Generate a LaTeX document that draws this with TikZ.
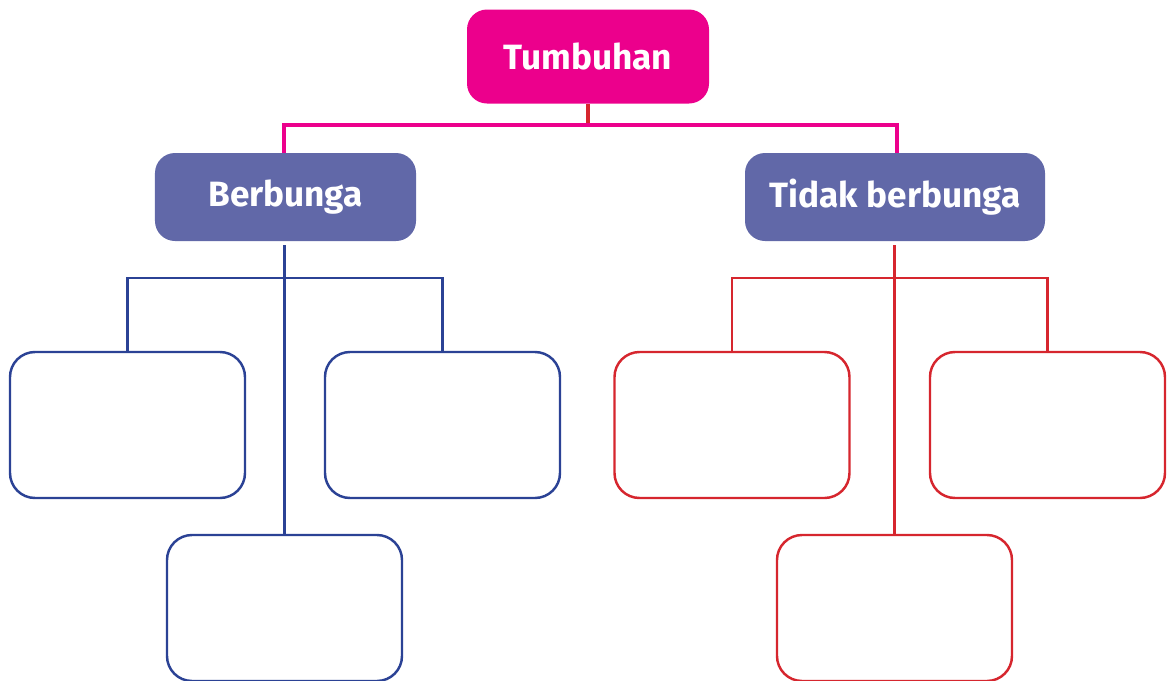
\documentclass[tikz,border=0pt]{standalone}
\usepackage{fontspec}
\setmainfont{Fira Sans}
\usepackage{tikz}
\usetikzlibrary{calc}
\usetikzlibrary{positioning}
\definecolor{magenta}{HTML}{EC008C}
\definecolor{ungu}{HTML}{6168A8}
\definecolor{biru}{HTML}{2B4295}
\definecolor{merah}{HTML}{D6262E}
\tikzset{headbox/.style = {rectangle, rounded corners=4mm, draw=none, text=white, font=\fontsize{20}{24}\selectfont\bfseries, inner sep=0}}
\tikzset{emptybox/.style = {rectangle, rounded corners=5mm, line width=1.4pt, fill=white, minimum width=47mm, minimum height=29.2mm}}
\tikzset{blueline/.style = {-, draw=biru, line width=1.3pt}}
\tikzset{redline/.style = {-, draw=merah, line width=1.3pt}}

\begin{document}
\begin{tikzpicture}[x=0.2mm, y=-0.2mm]
\useasboundingbox (0,0) rectangle (1167,680);
%\node [draw=none] at (588,20) {judul};
\node [headbox, fill=magenta, minimum width=48.4mm, minimum height=18.8mm] (T) at (588, 56.5) {Tumbuhan};
\node [headbox, fill=ungu, minimum width=52.2mm, minimum height=17.6mm] (B) at (285.5, 197) {Berbunga};
\node [headbox, fill=ungu, minimum width=60mm, minimum height=17.6mm] (TB) at (895, 197) {Tidak berbunga};
\coordinate (J) at (588, 125);
\coordinate (BJ) at (285, 278);
\coordinate (TJ) at (894, 278);
% kotak kosong
\node [emptybox, draw=biru] (B1) at (127.5, 425) {};
\node [emptybox, draw=biru] (B2) at (442.5, 425) {};
\node [emptybox, draw=biru] (B3) at (284.5, 608) {};
\node [emptybox, draw=merah] (T1) at (732, 425) {};
\node [emptybox, draw=merah] (T2) at (1047.5, 425) {};
\node [emptybox, draw=merah] (T3) at (894.5, 608) {};
% garis
\draw [-, draw=merah, line width=2.6pt] (T.south) to (J);
\draw [-, draw=magenta, line width=2.6pt] ([xshift=-0.3mm]B.north) -- ([xshift=-0.3mm]B.north |- J) -- ([xshift=0.4mm]TB.north |- J) -- ([xshift=0.4mm]TB.north);
\draw [blueline, shorten <=0.8mm] (B3.north |- B.south) to (B3.north);
\draw [blueline] (B1.north) -- (B1.north |- BJ) -- (B2.north |- BJ) -- (B2.north);
\draw [redline, shorten <=0.8mm] (T3.north |- TB.south) to (T3.north);
\draw [redline] (T1.north) -- (T1.north |- TJ) -- (T2.north |- TJ) -- (T2.north);
\end{tikzpicture}
\end{document}
